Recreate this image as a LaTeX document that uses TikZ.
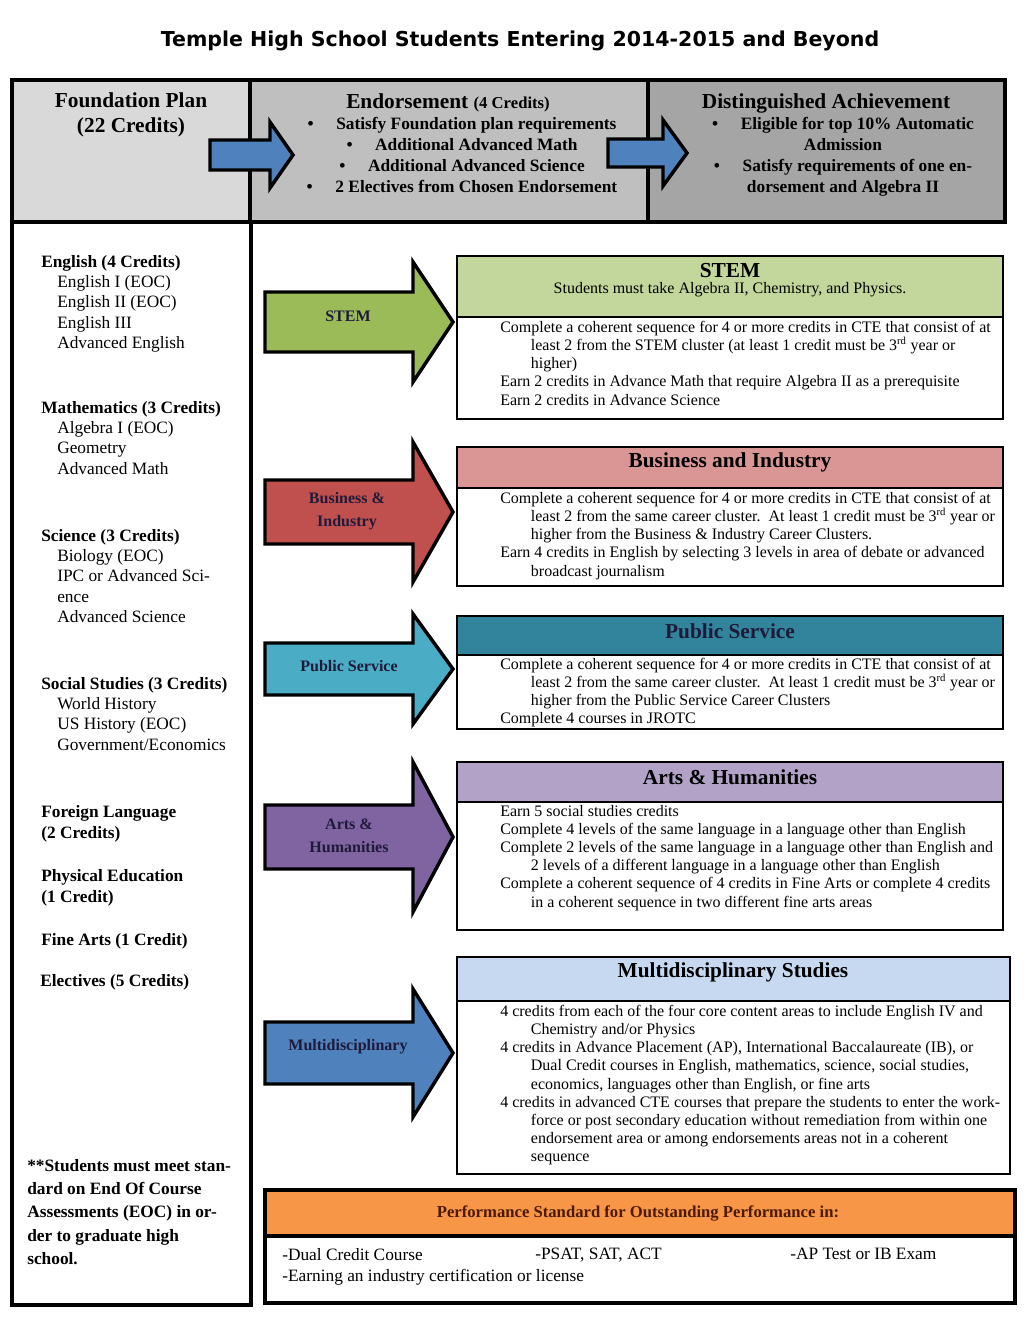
\documentclass[tikz,border=0pt]{standalone}
\usepackage{fontspec}
\setmainfont{Liberation Serif}
\newfontfamily\titlefont{DejaVu Sans}

\definecolor{foundgray}{HTML}{D9D9D9}
\definecolor{endogray}{HTML}{BFBFBF}
\definecolor{distgray}{HTML}{A5A5A5}
\definecolor{arrowblue}{HTML}{4F81BD}
\definecolor{stemdark}{HTML}{9BBB59}
\definecolor{stemlight}{HTML}{C3D69B}
\definecolor{busdark}{HTML}{C0504D}
\definecolor{buslight}{HTML}{D99694}
\definecolor{pubdark}{HTML}{4BACC6}
\definecolor{publight}{HTML}{31849B}
\definecolor{artsdark}{HTML}{8064A2}
\definecolor{artslight}{HTML}{B2A2C7}
\definecolor{multilight}{HTML}{C6D9F1}
\definecolor{perforange}{HTML}{F79646}
\definecolor{labnavy}{HTML}{1F1A3A}
\definecolor{perfbrown}{HTML}{4D1A00}

\newcommand{\ind}{\hspace*{23pt}}
\newcommand{\sub}{\hspace*{12pt}}
\newcommand{\blt}{\textbullet\hspace{17pt}}
\newcommand{\rd}{3\textsuperscript{rd}}
% block arrow: centre y, half shaft, half head, colour
\newcommand{\blockarrow}[4]{%
  \draw[arrowline, fill=#4] (265,#1-#2) -- (413,#1-#2) -- (413,#1-#3) -- (453,#1)
    -- (413,#1+#3) -- (413,#1+#2) -- (265,#1+#2) -- cycle;}

\begin{document}
\begin{tikzpicture}[x=0.75pt, y=-0.75pt,
    boxline/.style ={draw, line width=2.6pt},
    thinbox/.style ={draw, line width=2pt},
    arrowline/.style ={draw, line width=2.6pt, line join=miter},
    hdr/.style ={font=\bfseries\fontsize{16}{18.8}\selectfont, align=center, inner sep=0pt},
    hdrlist/.style ={font=\bfseries\fontsize{13}{15.7}\selectfont, align=center, inner sep=0pt, anchor=north},
    lefttxt/.style ={font=\fontsize{13}{15.2}\selectfont, align=left, inner sep=0pt, anchor=north west},
    bodytxt/.style ={font=\fontsize{12}{13.6}\selectfont, align=left, inner sep=0pt, anchor=north west},
    arrowlab/.style ={font=\bfseries\fontsize{12}{17}\selectfont, text=labnavy, align=center, inner sep=0pt}]
   \useasboundingbox (0,0) rectangle (1031,1320);

   \node[font=\titlefont\bfseries\fontsize{15.4}{18}\selectfont] (title) at (520,41) {Temple High School Students Entering 2014-2015 and Beyond};

   % top row
   \draw[boxline, fill=foundgray] (12,80) rectangle (250,222);
   \draw[boxline, fill=endogray] (250,80) rectangle (648,222);
   \draw[boxline, fill=distgray] (648,80) rectangle (1005,222);
   \draw[boxline] (12,222) rectangle (251,1305);

   \node[hdr] (found) at (131,115) {Foundation Plan\\(22 Credits)};
   \node[hdr] (endo) at (448,103) {Endorsement {\fontsize{12.5}{15}\selectfont(4 Credits)}};
   \node[hdrlist] (endolist) at (462,117) {\blt Satisfy Foundation plan requirements\\
      \blt Additional Advanced Math\\
      \blt Additional Advanced Science\\
      \blt 2 Electives from Chosen Endorsement};
   \node[hdr] (dist) at (826,103) {Distinguished Achievement};
   \node[hdrlist] (distlist) at (843,117) {\blt Eligible for top 10\% Automatic\\
      Admission\\
      \blt Satisfy requirements of one en-\\
      dorsement and Algebra II};

   \draw[arrowline, fill=arrowblue] (210,140) -- (270,140) -- (270,122) -- (293,155)
      -- (270,188) -- (270,170) -- (210,170) -- cycle;
   \draw[arrowline, fill=arrowblue] (608,139) -- (663,139) -- (663,120) -- (687,153)
      -- (663,186) -- (663,167) -- (608,167) -- cycle;

   % foundation courses
   \node[lefttxt] (eng) at (41,255) {\textbf{English (4 Credits)}\\\sub English I (EOC)\\\sub English II (EOC)\\\sub English III\\\sub Advanced English};
   \node[lefttxt] (math) at (41,401) {\textbf{Mathematics (3 Credits)}\\\sub Algebra I (EOC)\\\sub Geometry\\\sub Advanced Math};
   \node[lefttxt] (sci) at (41,529) {\textbf{Science (3 Credits)}\\\sub Biology (EOC)\\\sub IPC or Advanced Sci-\\\sub ence\\\sub Advanced Science};
   \node[lefttxt] (soc) at (41,677) {\textbf{Social Studies (3 Credits)}\\\sub World History\\\sub US History (EOC)\\\sub Government/Economics};
   \node[lefttxt, font=\bfseries\fontsize{13}{15.6}\selectfont] (lang) at (41,805) {Foreign Language\\(2 Credits)};
   \node[lefttxt, font=\bfseries\fontsize{13}{15.6}\selectfont] (pe) at (41,869) {Physical Education\\(1 Credit)};
   \node[lefttxt, font=\bfseries\fontsize{13}{15.6}\selectfont] (arts) at (41,933) {Fine Arts (1 Credit)};
   \node[lefttxt, font=\bfseries\fontsize{13}{15.6}\selectfont] (elect) at (40,974) {Electives (5 Credits)};
   \node[lefttxt, font=\bfseries\fontsize{13}{17.5}\selectfont] (note) at (27,1159) {**Students must meet stan-\\dard on End Of Course\\Assessments (EOC) in or-\\der to graduate high\\school.};

   % endorsement arrows
   \blockarrow{322}{30}{60}{stemdark}
   \blockarrow{512}{32}{70}{busdark}
   \blockarrow{669}{26}{55}{pubdark}
   \blockarrow{837}{32}{75}{artsdark}
   \blockarrow{1053}{31}{64}{arrowblue}
   \node[arrowlab] (stemlab) at (348,316) {STEM};
   \node[arrowlab] (buslab) at (347,511) {Business \&\\Industry};
   \node[arrowlab] (publab) at (349,666) {Public Service};
   \node[arrowlab] (artslab) at (349,836) {Arts \&\\Humanities};
   \node[arrowlab] (multilab) at (348,1047) {Multidisciplinary};

   % STEM
   \draw[thinbox, fill=stemlight] (457,256) rectangle (1003,317);
   \draw[thinbox] (457,317) rectangle (1003,419);
   \node[hdr] (stem) at (730,271) {STEM};
   \node[font=\fontsize{12}{14}\selectfont, inner sep=0pt] (stemsub) at (730,290) {Students must take Algebra II, Chemistry, and Physics.};
   \node[bodytxt] (stemtxt) at (500,321) {Complete a coherent sequence for 4 or more credits in CTE that consist of at\\
      \ind least 2 from the STEM cluster (at least 1 credit must be \rd{} year or\\
      \ind higher)\\
      Earn 2 credits in Advance Math that require Algebra II as a prerequisite\\
      Earn 2 credits in Advance Science};

   % Business and Industry
   \draw[thinbox, fill=buslight] (457,447) rectangle (1003,488);
   \draw[thinbox] (457,488) rectangle (1003,586);
   \node[hdr] (bus) at (730,462) {Business and Industry};
   \node[bodytxt] (bustxt) at (500,492) {Complete a coherent sequence for 4 or more credits in CTE that consist of at\\
      \ind least 2 from the same career cluster.\ \ At least 1 credit must be \rd{} year or\\
      \ind higher from the Business \& Industry Career Clusters.\\
      Earn 4 credits in English by selecting 3 levels in area of debate or advanced\\
      \ind broadcast journalism};

   % Public Service
   \draw[thinbox, fill=publight] (457,616) rectangle (1003,655);
   \draw[thinbox] (457,655) rectangle (1003,729);
   \node[hdr, text=labnavy] (pub) at (730,631) {Public Service};
   \node[bodytxt] (pubtxt) at (500,658) {Complete a coherent sequence for 4 or more credits in CTE that consist of at\\
      \ind least 2 from the same career cluster.\ \ At least 1 credit must be \rd{} year or\\
      \ind higher from the Public Service Career Clusters\\
      Complete 4 courses in JROTC};

   % Arts & Humanities
   \draw[thinbox, fill=artslight] (457,762) rectangle (1003,802);
   \draw[thinbox] (457,802) rectangle (1003,930);
   \node[hdr] (arth) at (730,777) {Arts \& Humanities};
   \node[bodytxt] (arthtxt) at (500,805) {Earn 5 social studies credits\\
      Complete 4 levels of the same language in a language other than English\\
      Complete 2 levels of the same language in a language other than English and\\
      \ind 2 levels of a different language in a language other than English\\
      Complete a coherent sequence of 4 credits in Fine Arts or complete 4 credits\\
      \ind in a coherent sequence in two different fine arts areas};

   % Multidisciplinary Studies
   \draw[thinbox, fill=multilight] (457,957) rectangle (1010,1001);
   \draw[thinbox] (457,1001) rectangle (1010,1174);
   \node[hdr] (multi) at (733,972) {Multidisciplinary Studies};
   \node[bodytxt] (multitxt) at (500,1005) {4 credits from each of the four core content areas to include English IV and\\
      \ind Chemistry and/or Physics\\
      4 credits in Advance Placement (AP), International Baccalaureate (IB), or\\
      \ind Dual Credit courses in English, mathematics, science, social studies,\\
      \ind economics, languages other than English, or fine arts\\
      4 credits in advanced CTE courses that prepare the students to enter the work-\\
      \ind force or post secondary education without remediation from within one\\
      \ind endorsement area or among endorsements areas not in a coherent\\
      \ind sequence};

   % performance standard
   \draw[boxline, fill=perforange] (265,1190) rectangle (1015,1236);
   \draw[boxline] (265,1236) rectangle (1015,1303);
   \node[font=\bfseries\fontsize{12.5}{15}\selectfont, text=perfbrown, inner sep=0pt] (perf) at (638,1213) {Performance Standard for Outstanding Performance in:};
   \node[lefttxt, font=\fontsize{13}{15.6}\selectfont] (dual) at (282,1248) {-Dual Credit Course\\-Earning an industry certification or license};
   \node[lefttxt] (psat) at (535,1248) {-PSAT, SAT, ACT};
   \node[lefttxt] (aptest) at (790,1248) {-AP Test or IB Exam};
 \end{tikzpicture}
\end{document}
